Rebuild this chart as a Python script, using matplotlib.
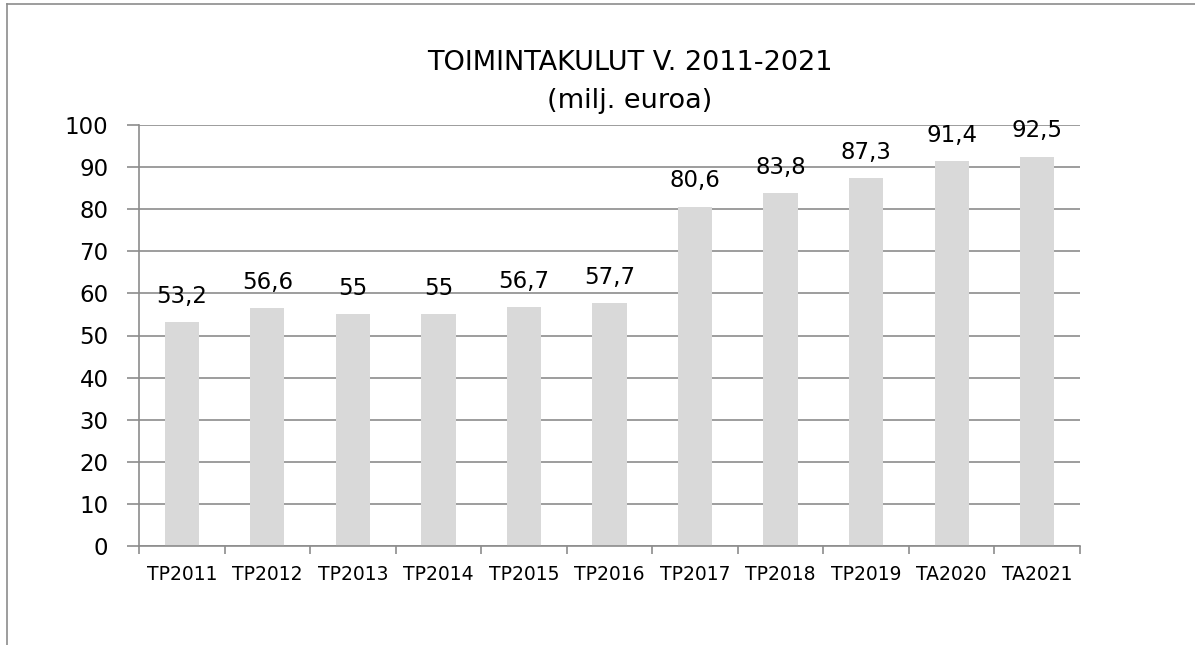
import matplotlib
matplotlib.use("Agg")
import matplotlib.pyplot as plt
from matplotlib.lines import Line2D

categories = ["TP2011", "TP2012", "TP2013", "TP2014", "TP2015", "TP2016",
              "TP2017", "TP2018", "TP2019", "TA2020", "TA2021"]
values = [53.2, 56.6, 55, 55, 56.7, 57.7, 80.6, 83.8, 87.3, 91.4, 92.5]
value_labels = ["53,2", "56,6", "55", "55", "56,7", "57,7",
                "80,6", "83,8", "87,3", "91,4", "92,5"]
yticks = [0, 10, 20, 30, 40, 50, 60, 70, 80, 90, 100]

plt.rcParams['font.family'] = ['DejaVu Sans']
W, H = 1195, 645
fig = plt.figure(figsize=(W / 100, H / 100), dpi=100)
ax = fig.add_axes([139 / W, 1 - 546 / H, (1080 - 139) / W, (546 - 125) / H])

x = list(range(len(categories)))
ax.bar(x, values, width=0.40, color="#d9d9d9", zorder=2)
for xi, v, lab in zip(x, values, value_labels):
    ax.annotate(lab, (xi, v), xytext=(0, 18.5), textcoords="offset points",
                ha="center", va="center", fontsize=16.5, color="black", zorder=3)

ax.set_xlim(-0.5, len(categories) - 0.5)
ax.set_ylim(0, 100)
ax.set_yticks(yticks)
ax.set_yticklabels([str(t) for t in yticks], fontsize=16.5)
ax.yaxis.grid(True, color="#8c8c8c", linewidth=1.2, zorder=0)
ax.tick_params(axis="y", length=9, width=1.2, color="#8c8c8c", pad=13)

ax.set_xticks(x)
ax.set_xticklabels(categories, fontsize=13.5)
ax.tick_params(axis="x", length=0, pad=14)
ax.set_xticks([i - 0.5 for i in range(len(categories) + 1)], minor=True)
ax.tick_params(axis="x", which="minor", length=6, width=1.2, color="#8c8c8c")

for s in ["top", "right"]:
    ax.spines[s].set_visible(False)
for s in ["left", "bottom"]:
    ax.spines[s].set_color("#8c8c8c")
    ax.spines[s].set_linewidth(1.2)

fig.text(630 / W, 1 - 63 / H, "TOIMINTAKULUT V. 2011-2021", ha="center", va="center", fontsize=19.5)
fig.text(630 / W, 1 - 101 / H, "(milj. euroa)", ha="center", va="center", fontsize=19.5)

# outer frame (top and left)
fig.add_artist(Line2D([7 / W, 1], [1 - 4 / H, 1 - 4 / H], color="#8c8c8c", linewidth=1.2, transform=fig.transFigure))
fig.add_artist(Line2D([7 / W, 7 / W], [1 - 4 / H, 0], color="#8c8c8c", linewidth=1.2, transform=fig.transFigure))

fig.savefig("out.png", dpi=100, facecolor="white")
